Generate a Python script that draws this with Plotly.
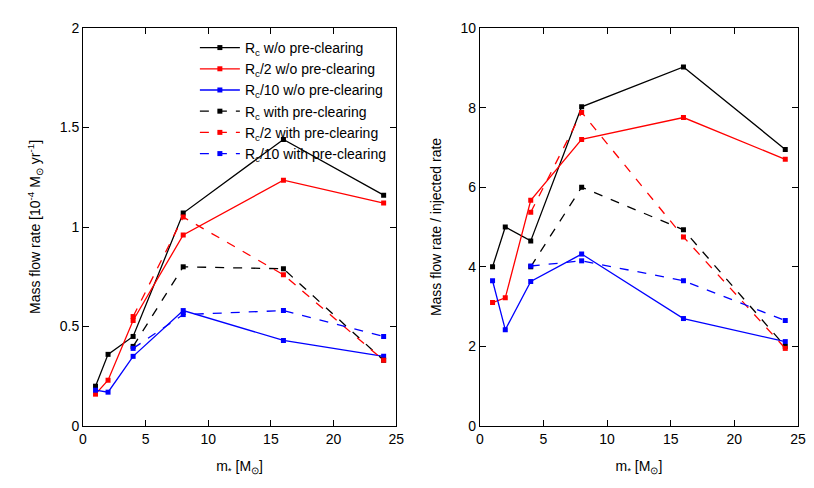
import plotly.graph_objects as go
from plotly.subplots import make_subplots

mass = [1, 2, 4, 8, 16, 24]
mass_pre = [4, 8, 16, 24]

# left panel: mass flow rate [1e-4 Msun/yr]
rate_rc = [0.20, 0.36, 0.45, 1.07, 1.44, 1.16]
rate_rc2 = [0.16, 0.23, 0.53, 0.96, 1.235, 1.12]
rate_rc10 = [0.18, 0.17, 0.35, 0.58, 0.43, 0.35]
rate_rc_pre = [0.40, 0.80, 0.79, 0.33]
rate_rc2_pre = [0.55, 1.05, 0.76, 0.33]
rate_rc10_pre = [0.39, 0.56, 0.58, 0.45]

# right panel: mass flow rate / injected rate
ratio_rc = [4.0, 5.0, 4.65, 8.02, 9.02, 6.95]
ratio_rc2 = [3.1, 3.22, 5.67, 7.2, 7.75, 6.7]
ratio_rc10 = [3.65, 2.42, 3.63, 4.32, 2.7, 2.12]
ratio_rc_pre = [4.0, 6.0, 4.93, 2.0]
ratio_rc2_pre = [5.37, 7.88, 4.75, 1.95]
ratio_rc10_pre = [4.02, 4.15, 3.65, 2.65]

names = ["R<sub>c</sub> w/o pre-clearing", "R<sub>c</sub>/2 w/o pre-clearing",
         "R<sub>c</sub>/10 w/o pre-clearing", "R<sub>c</sub> with pre-clearing",
         "R<sub>c</sub>/2 with pre-clearing", "R<sub>c</sub>/10 with pre-clearing"]
colors = ["black", "red", "blue"] * 2
dashes = ["solid"] * 3 + ["dash"] * 3

fig = make_subplots(rows=1, cols=2)

left = [rate_rc, rate_rc2, rate_rc10, rate_rc_pre, rate_rc2_pre, rate_rc10_pre]
right = [ratio_rc, ratio_rc2, ratio_rc10, ratio_rc_pre, ratio_rc2_pre, ratio_rc10_pre]
for i in range(6):
    xs = mass if i < 3 else mass_pre
    style = dict(mode="lines+markers", line=dict(color=colors[i], dash=dashes[i], width=1.3),
                 marker=dict(symbol="square", size=5, color=colors[i]))
    fig.add_trace(go.Scatter(x=xs, y=left[i], name=names[i], **style), row=1, col=1)
    fig.add_trace(go.Scatter(x=xs, y=right[i], showlegend=False, **style), row=1, col=2)

axis_style = dict(showline=True, mirror="ticks", linecolor="black", linewidth=1,
                  ticks="inside", ticklen=6, tickcolor="black", showgrid=False, zeroline=False,
                  tickfont=dict(size=14, color="black"))
fig.update_xaxes(range=[0, 25], dtick=5, title=dict(text="m<sub>*</sub> [M<sub>⊙</sub>]", font=dict(size=14)),
                 **axis_style)
fig.update_xaxes(domain=[0.0, 0.438], row=1, col=1)
fig.update_xaxes(domain=[0.555, 1.0], row=1, col=2)
fig.update_yaxes(range=[0, 2], dtick=0.5, row=1, col=1,
                 title=dict(text="Mass flow rate [10<sup>-4</sup> M<sub>⊙</sub> yr<sup>-1</sup>]", font=dict(size=14)),
                 **axis_style)
fig.update_yaxes(range=[0, 10], dtick=2, row=1, col=2,
                 title=dict(text="Mass flow rate / injected rate", font=dict(size=14)), **axis_style)

fig.update_layout(
    width=814, height=488, plot_bgcolor="white", paper_bgcolor="white",
    font=dict(family="Liberation Sans, Arial, sans-serif", color="black"),
    margin=dict(l=75, r=24, t=18, b=70),
    legend=dict(x=0.432, y=0.99, xanchor="right", yanchor="top", bgcolor="rgba(0,0,0,0)",
                font=dict(size=14), tracegroupgap=0, itemwidth=40),
)

fig.write_html("out.html")
